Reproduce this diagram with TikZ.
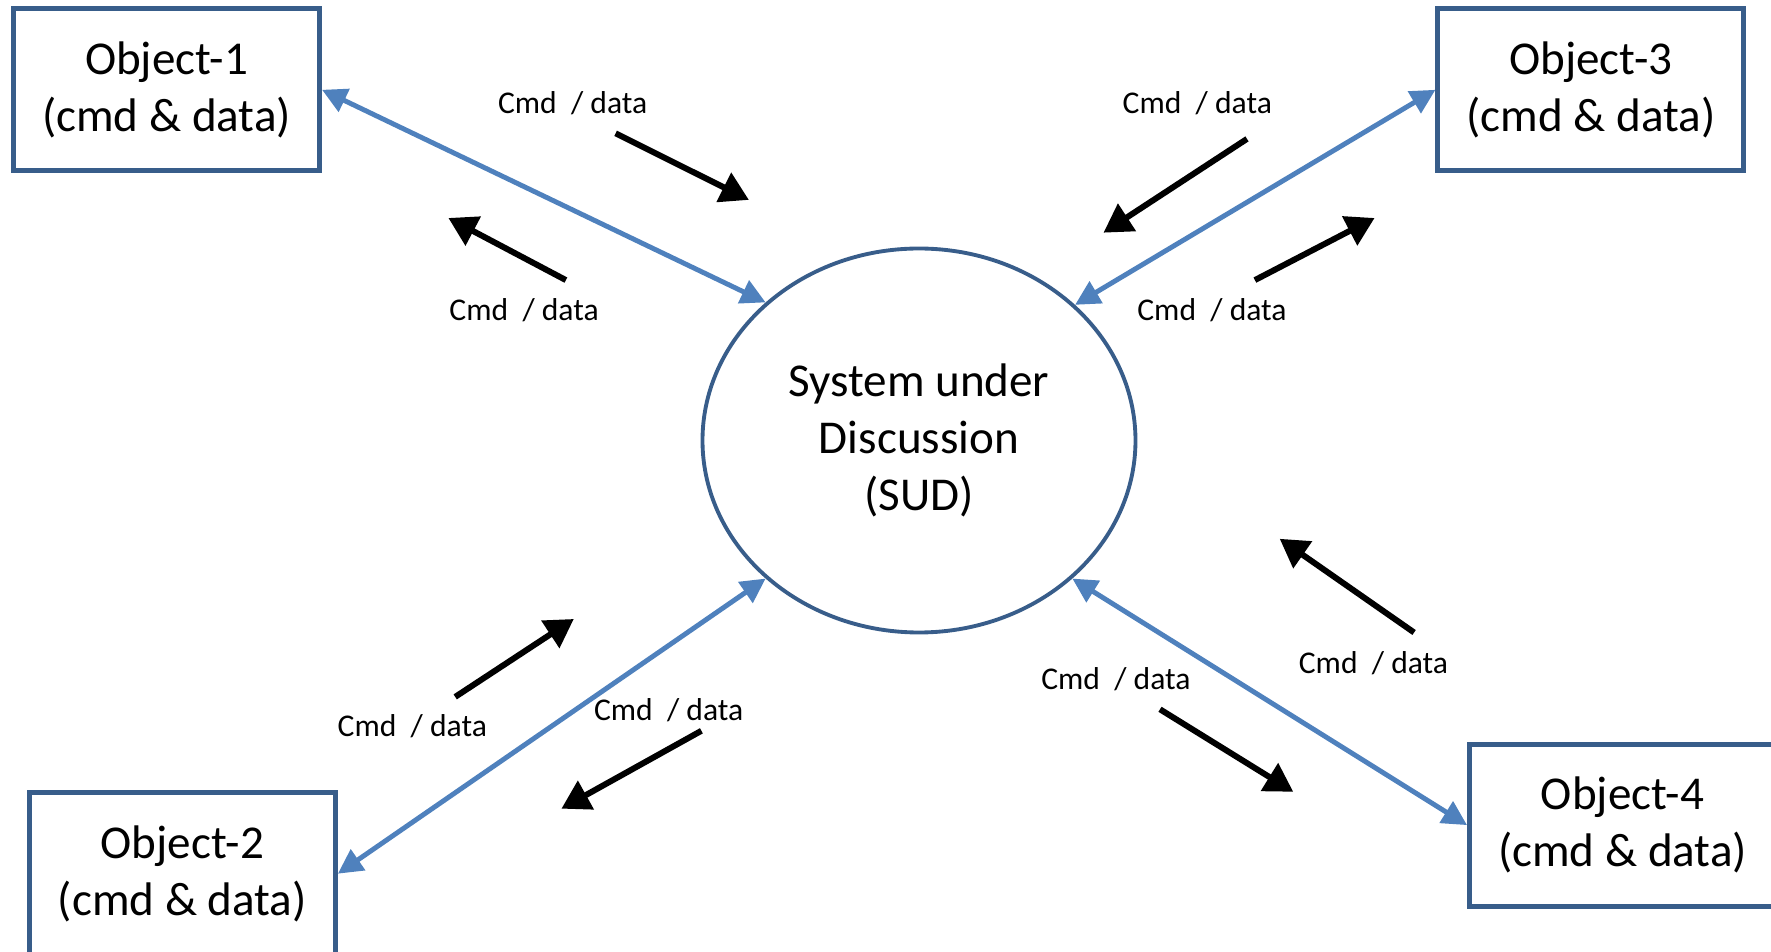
\documentclass[tikz,border=0pt]{standalone}
\usepackage{fontspec}
\setmainfont{Carlito}
\usetikzlibrary{shapes.geometric, arrows.meta, positioning}
\definecolor{boxblue}{RGB}{56, 93, 138}
\definecolor{linkblue}{RGB}{79, 129, 189}

\begin{document}
\begin{tikzpicture}[>=Stealth, line width=1pt,
    objbox/.style={draw=boxblue, line width=1.4pt, minimum width=3.06cm, minimum height=1.62cm,
        align=center, font=\fontsize{13.4}{16.1}\selectfont},
    link/.style={linkblue, line width=1.4pt, arrows={Triangle[length=7pt,width=7pt]-Triangle[length=7pt,width=7pt]}},
    flow/.style={black, line width=1.7pt, arrows={-Triangle[length=8pt,width=9pt]}},
    cmdlabel/.style={font=\fontsize{9}{11}\selectfont, inner sep=0pt}]
    \useasboundingbox (0, 0) rectangle (17.71, 9.52);

    % system in the middle
    \node[ellipse, draw=boxblue, line width=1.1pt, minimum width=4.33cm, minimum height=3.84cm,
        align=center, font=\fontsize{13.4}{16.1}\selectfont] (sud) at (9.19, 5.115)
        {System under\\Discussion\\(SUD)};

    % objects
    \node[objbox] (obj1) at (1.666, 8.622) {Object-1\\(cmd \& data)};
    \node[objbox] (obj3) at (15.909, 8.622) {Object-3\\(cmd \& data)};
    \node[objbox] (obj2) at (1.824, 0.783) {Object-2\\(cmd \& data)};
    \node[objbox] (obj4) at (16.225, 1.269) {Object-4\\(cmd \& data)};

    % links to the system
    \draw[link] (obj1.east) -- (sud.138);
    \draw[link] (obj3.west) -- (sud.41);
    \draw[link] (obj2.east) -- (sud.222);
    \draw[link] (obj4.west) -- (sud.-42);

    % flow arrows
    \coordinate (f1a) at (6.156, 8.187);   \coordinate (f1b) at (7.489, 7.521);
    \coordinate (f2a) at (5.659, 6.719);   \coordinate (f2b) at (4.484, 7.340);
    \coordinate (f3a) at (12.470, 8.131);  \coordinate (f3b) at (11.035, 7.193);
    \coordinate (f4a) at (12.549, 6.719);  \coordinate (f4b) at (13.746, 7.340);
    \coordinate (f5a) at (4.552, 2.551);   \coordinate (f5b) at (5.738, 3.330);
    \coordinate (f6a) at (7.014, 2.212);   \coordinate (f6b) at (5.614, 1.433);
    \coordinate (f7a) at (11.600, 2.427);  \coordinate (f7b) at (12.933, 1.602);
    \coordinate (f8a) at (14.141, 3.195);  \coordinate (f8b) at (12.797, 4.132);

    \foreach \i in {1,...,8}
        \draw[flow] (f\i a) -- (f\i b);

    % labels
    \node[cmdlabel] (lab1) at (5.727, 8.492) {Cmd~~/ data};
    \node[cmdlabel] (lab2) at (5.241, 6.414) {Cmd~~/ data};
    \node[cmdlabel] (lab3) at (11.973, 8.492) {Cmd~~/ data};
    \node[cmdlabel] (lab4) at (12.120, 6.414) {Cmd~~/ data};
    \node[cmdlabel] (lab5) at (4.123, 2.257) {Cmd~~/ data};
    \node[cmdlabel] (lab6) at (6.687, 2.415) {Cmd~~/ data};
    \node[cmdlabel] (lab7) at (11.159, 2.733) {Cmd~~/ data};
    \node[cmdlabel] (lab8) at (13.735, 2.892) {Cmd~~/ data};

\end{tikzpicture}
\end{document}
